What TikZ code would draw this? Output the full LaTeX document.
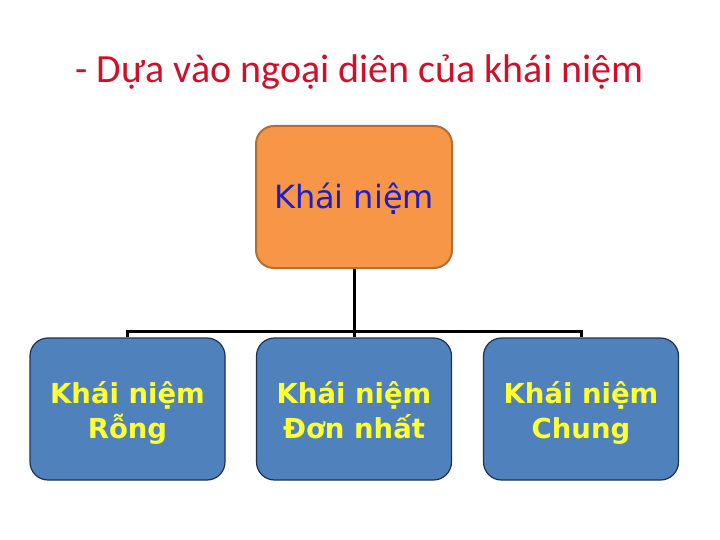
\documentclass[tikz,border=0pt]{standalone}
\usepackage{fontspec}
\setmainfont{DejaVu Sans}
\newfontfamily\titlefont{Carlito}
\definecolor{titlered}{RGB}{208,16,40}
\definecolor{orfill}{RGB}{247,150,70}
\definecolor{ordraw}{RGB}{182,109,49}
\definecolor{blfill}{RGB}{79,129,189}
\definecolor{bldraw}{RGB}{30,50,80}
\definecolor{txtblue}{RGB}{30,30,200}
\definecolor{txtyellow}{RGB}{255,255,50}
\begin{document}
\begin{tikzpicture}[x=1pt,y=-1pt,
  topbox/.style={draw=ordraw,line width=2pt,fill=orfill,rounded corners=18pt,minimum width=196pt,minimum height=142pt,inner sep=0pt,font=\fontsize{32}{38}\selectfont,text=txtblue,text height=32pt,text depth=8pt},
  subbox/.style={draw=bldraw,line width=1.2pt,fill=blfill,rounded corners=18pt,minimum width=195pt,minimum height=142pt,inner sep=0pt,align=center,font=\bfseries\fontsize{27.5}{34.5}\selectfont,text=txtyellow,text height=66pt,text depth=8pt},
  conn/.style={line width=3pt,black}]
\useasboundingbox (0,0) rectangle (720,540);
\node[font=\titlefont\fontsize{40}{46}\selectfont,text=titlered] (title) at (359.5,72) {- Dựa vào ngoại diên của khái niệm};
\node[topbox] (top) at (354,197) {Khái niệm};
\node[subbox] (a) at (127.5,409) {Khái niệm\\Rỗng};
\node[subbox] (b) at (354,409) {Khái niệm\\Đơn nhất};
\node[subbox] (c) at (581,409) {Khái niệm\\Chung};
\coordinate (j) at (354,331);
\draw[conn] (top.south) -- (j);
\draw[conn] (a.north) -- (a.north |- j) -- (c.north |- j) -- (c.north);
\draw[conn] (j) -- (b.north);
\end{tikzpicture}
\end{document}
